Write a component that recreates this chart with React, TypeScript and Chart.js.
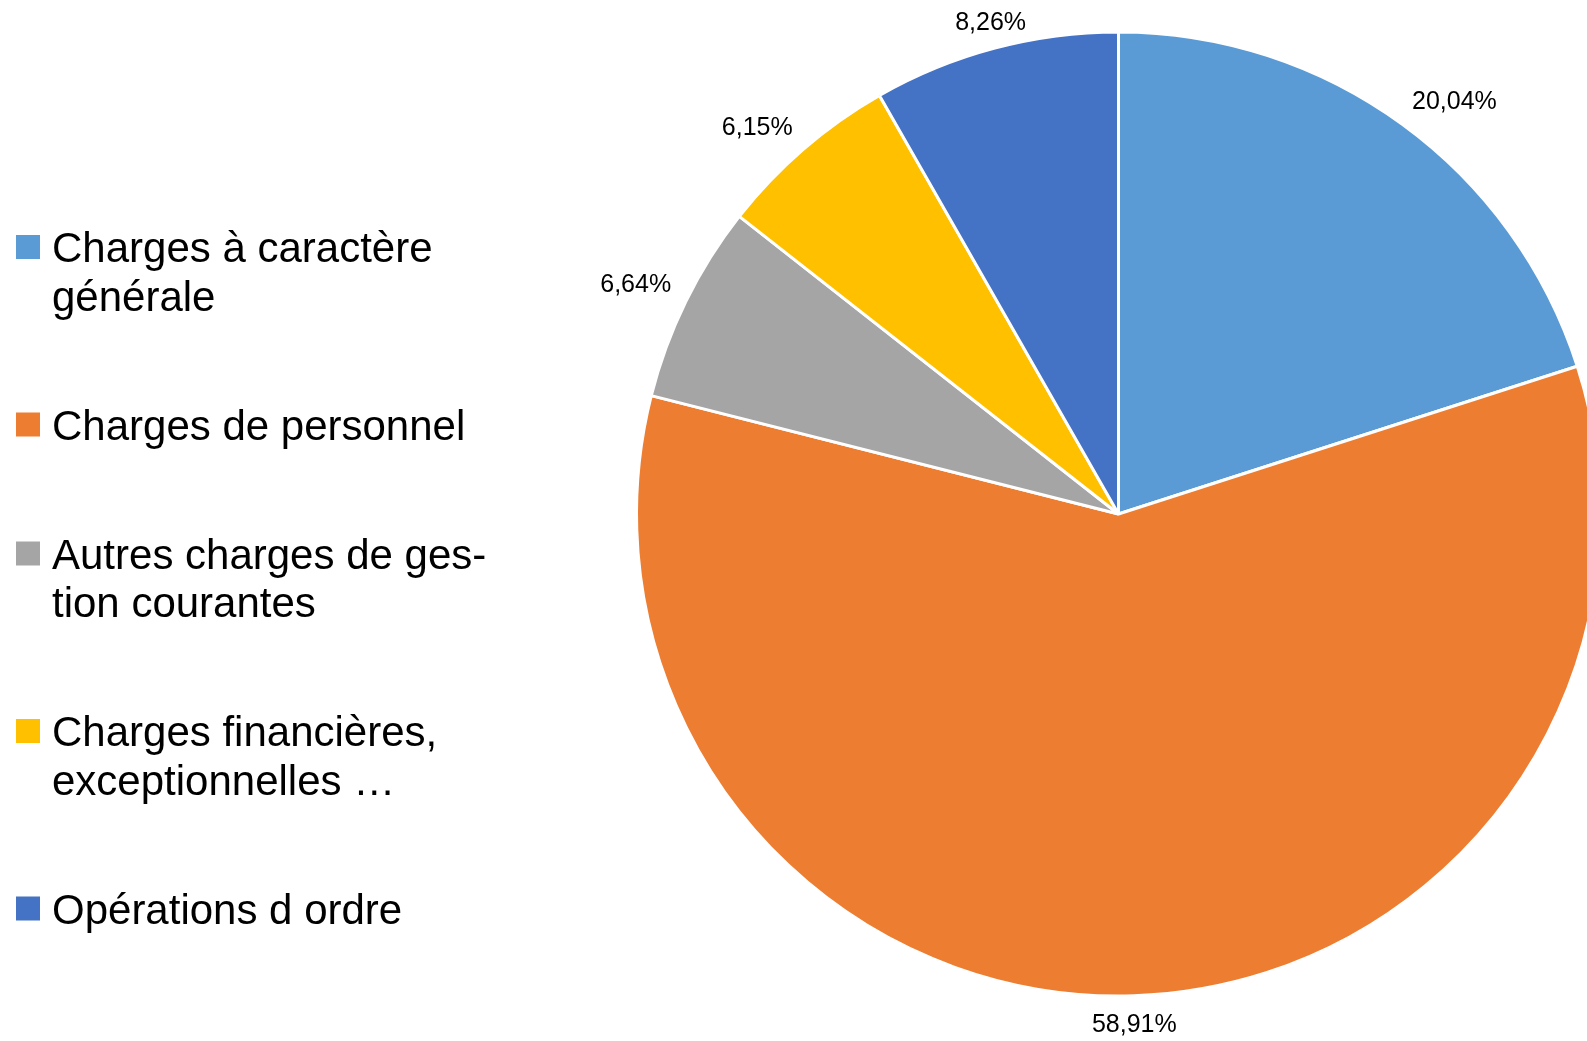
import React, { useEffect, useRef } from "react";
import { Chart, registerables } from "chart.js";

Chart.register(...registerables);

const categories = [
  "Charges à caractère générale",
  "Charges de personnel",
  "Autres charges de gestion courantes",
  "Charges financières, exceptionnelles …",
  "Opérations d ordre",
];
const legendLines = [
  ["Charges à caractère", "générale"],
  ["Charges de personnel"],
  ["Autres charges de ges-", "tion courantes"],
  ["Charges financières,", "exceptionnelles …"],
  ["Opérations d ordre"],
];
const values = [20.04, 58.91, 6.64, 6.15, 8.26];
const valueLabels = ["20,04%", "58,91%", "6,64%", "6,15%", "8,26%"];
const colors = ["#5B9BD5", "#ED7D31", "#A5A5A5", "#FFC000", "#4472C4"];

const FONT = "'Liberation Sans', Arial, sans-serif";

const overlayPlugin = {
  id: "overlay",
  afterDraw(chart: any) {
    const ctx = chart.ctx as CanvasRenderingContext2D;
    ctx.save();
    // data labels, outside end
    const meta = chart.getDatasetMeta(0);
    ctx.font = `25px ${FONT}`;
    ctx.fillStyle = "#000";
    ctx.textAlign = "center";
    ctx.textBaseline = "middle";
    const lim = Math.sin(Math.PI / 8);
    meta.data.forEach((arc: any, i: number) => {
      const { x, y, startAngle, endAngle, outerRadius } = arc.getProps(
        ["x", "y", "startAngle", "endAngle", "outerRadius"],
        true
      );
      const mid = (startAngle + endAngle) / 2;
      const dx = Math.cos(mid);
      const dy = Math.sin(mid);
      const d = outerRadius + 16.5;
      const hw = ctx.measureText(valueLabels[i]).width / 2;
      const hh = 10.6;
      const ox = Math.abs(dx) < lim ? 0 : Math.sign(dx) * hw;
      const oy = Math.abs(dy) < lim ? 0 : Math.sign(dy) * hh;
      ctx.fillText(valueLabels[i], x + dx * d + ox, y + dy * d + oy + 2);
    });
    // legend
    const lineH = 48.5;
    const gap = 80.5;
    let top = 235;
    ctx.font = `42px ${FONT}`;
    ctx.textAlign = "left";
    ctx.textBaseline = "alphabetic";
    legendLines.forEach((lines, i) => {
      ctx.fillStyle = colors[i];
      ctx.fillRect(16, top, 24, 24);
      ctx.fillStyle = "#000";
      lines.forEach((ln, j) => {
        ctx.fillText(ln, 52, top + 27 + j * lineH);
      });
      top += lines.length * lineH + gap;
    });
    ctx.restore();
  },
};

export default function App() {
  const ref = useRef<HTMLCanvasElement>(null);
  useEffect(() => {
    if (!ref.current) return;
    const chart = new Chart(ref.current, {
      type: "pie",
      data: {
        labels: categories,
        datasets: [
          {
            data: values,
            backgroundColor: colors,
            borderColor: "#ffffff",
            borderWidth: 3,
          },
        ],
      },
      options: {
        responsive: false,
        animation: false,
        devicePixelRatio: 1,
        layout: { padding: { left: 635, right: 98, top: 30.4, bottom: 43.4 } },
        plugins: {
          legend: { display: false },
          tooltip: { enabled: false },
        },
      },
      plugins: [overlayPlugin],
    });
    return () => chart.destroy();
  }, []);
  return (
    <div
      style={{
        position: "absolute",
        left: 0,
        top: 0,
        width: 1587,
        height: 1041,
        overflow: "hidden",
        background: "#fff",
      }}
    >
      <canvas ref={ref} width={1700} height={1041} style={{ width: 1700, height: 1041 }} />
    </div>
  );
}
